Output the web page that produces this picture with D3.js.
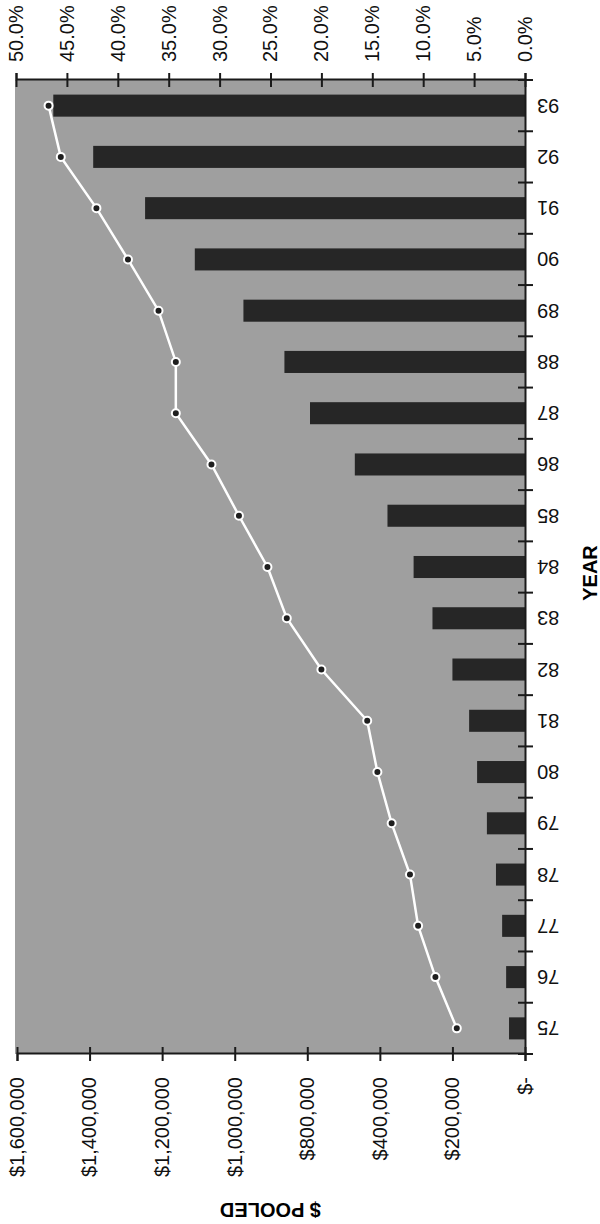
<!DOCTYPE html>
<html>
<head>
<meta charset="utf-8">
<script src="https://cdn.jsdelivr.net/npm/d3@7"></script>
<style>
  body { margin: 0; background: #fff; }
  svg { display: block; }
  text { font-family: "Liberation Sans", Arial, sans-serif; }
</style>
</head>
<body>
<div id="chart"></div>
<script>
// data (it is printed sideways)
const years = ["75","76","77","78","79","80","81","82","83","84","85","86","87","88","89","90","91","92","93"];
const pooled = [44000, 52000, 63000, 80000, 105000, 132000, 154000, 200000, 255000, 307000,
                379000, 538000, 785000, 863000, 976000, 1110000, 1247000, 1390000, 1500000];
const pct = [6.7, 8.8, 10.5, 11.3, 13.1, 14.5, 15.5, 20.0, 23.4, 25.3,
             28.1, 30.8, 34.3, 34.3, 36.0, 39.0, 42.1, 45.6, 46.8];
// the printed $ axis skips $600,000, ticks are still evenly spaced
const dollarTicks = [0, 200000, 400000, 800000, 1000000, 1200000, 1400000, 1600000];
const pctTicks = [0, 5, 10, 15, 20, 25, 30, 35, 40, 45, 50];

const pageW = 600, pageH = 1224;
// chart is drawn landscape (pageH wide, pageW tall) then turned 90deg ccw
const plot = {left: 170, right: 1144, top: 16, bottom: 525};

const svg = d3.select("#chart").append("svg")
    .attr("width", pageW)
    .attr("height", pageH);

const g = svg.append("g")
    .attr("transform", `translate(0,${pageH}) rotate(-90)`);

// scales
const x = d3.scaleBand()
    .domain(years)
    .range([plot.left, plot.right])
    .paddingInner(0.57)
    .paddingOuter(0.285);

const idx = d3.scaleLinear().domain([0, dollarTicks.length - 1]).range([plot.bottom, plot.top + 1]);
const yDollar = d3.scaleLinear()
    .domain(dollarTicks)
    .range(dollarTicks.map((d, i) => idx(i)));

const yPct = d3.scaleLinear().domain([0, 50]).range([plot.bottom, plot.top]);

// background
g.append("rect")
    .attr("x", plot.left)
    .attr("y", plot.top - 1)
    .attr("width", plot.right - plot.left)
    .attr("height", plot.bottom - plot.top + 1)
    .attr("fill", "#9f9f9f");

// bars
g.selectAll(".bar")
    .data(years)
    .enter().append("rect")
    .attr("class", "bar")
    .attr("x", d => x(d))
    .attr("width", x.bandwidth())
    .attr("y", (d, i) => yDollar(pooled[i]))
    .attr("height", (d, i) => plot.bottom - yDollar(pooled[i]))
    .attr("fill", "#262626");

// line
const line = d3.line()
    .x((d, i) => x(years[i]) + x.bandwidth() / 2)
    .y(d => yPct(d));

g.append("path")
    .datum(pct)
    .attr("d", line)
    .attr("fill", "none")
    .attr("stroke", "#fff")
    .attr("stroke-width", 2.5);

g.selectAll(".dot")
    .data(pct)
    .enter().append("circle")
    .attr("class", "dot")
    .attr("cx", (d, i) => x(years[i]) + x.bandwidth() / 2)
    .attr("cy", d => yPct(d))
    .attr("r", 4)
    .attr("fill", "#1e1e1e")
    .attr("stroke", "#fff")
    .attr("stroke-width", 2);

// left axis ($ pooled)
const leftAxis = g.append("g")
    .attr("transform", `translate(${plot.left},0)`)
    .call(d3.axisLeft(yDollar)
        .tickValues(dollarTicks)
        .tickFormat(d => d === 0 ? "$-" : d3.format("$,")(d))
        .tickSize(7)
        .tickPadding(16));

// right axis (%)
const rightAxis = g.append("g")
    .attr("transform", `translate(${plot.right},0)`)
    .call(d3.axisRight(yPct)
        .tickValues(pctTicks)
        .tickFormat(d => d.toFixed(1) + "%")
        .tickSize(7)
        .tickPadding(11));

[leftAxis, rightAxis].forEach(a => {
    a.select(".domain").attr("stroke", "#1a1a1a").attr("stroke-width", 2);
    a.selectAll(".tick line")
        .attr("stroke", "#1a1a1a").attr("stroke-width", 2);
    a.selectAll(".tick text")
        .attr("fill", "#111")
        .style("font-size", "20px");
});
leftAxis.selectAll(".tick line").attr("x1", 7);
rightAxis.selectAll(".tick line").attr("x1", -7);

// bottom axis (years)
const bottomAxis = g.append("g")
    .attr("transform", `translate(0,${plot.bottom})`)
    .call(d3.axisBottom(x).tickSize(0).tickSizeOuter(0));

bottomAxis.select(".domain").attr("stroke", "#1a1a1a").attr("stroke-width", 2);
bottomAxis.selectAll(".tick text")
    .attr("transform", "rotate(-90)")
    .attr("x", -12)
    .attr("y", 0)
    .attr("dy", "0.35em")
    .attr("fill", "#111")
    .style("text-anchor", "end")
    .style("font-size", "20px");

// tick marks between years
const gap = (x.step() - x.bandwidth()) / 2;
const bounds = years.map(d => x(d) - gap).concat([x(years[years.length - 1]) + x.bandwidth() + gap]);
bottomAxis.selectAll(".ytick")
    .data(bounds)
    .enter().append("line")
    .attr("x1", d => d).attr("x2", d => d)
    .attr("y1", -7).attr("y2", 8)
    .attr("stroke", "#1a1a1a")
    .attr("stroke-width", 2);

// axis titles
g.append("text")
    .attr("x", 651)
    .attr("y", 590)
    .attr("text-anchor", "middle")
    .attr("dy", "0.35em")
    .style("font-size", "20px")
    .style("font-weight", "bold")
    .text("YEAR");

g.append("text")
    .attr("transform", `translate(14,${(plot.top + plot.bottom) / 2}) rotate(-90)`)
    .attr("text-anchor", "middle")
    .attr("dy", "0.35em")
    .style("font-size", "20px")
    .style("font-weight", "bold")
    .text("$ POOLED");
</script>
</body>
</html>
